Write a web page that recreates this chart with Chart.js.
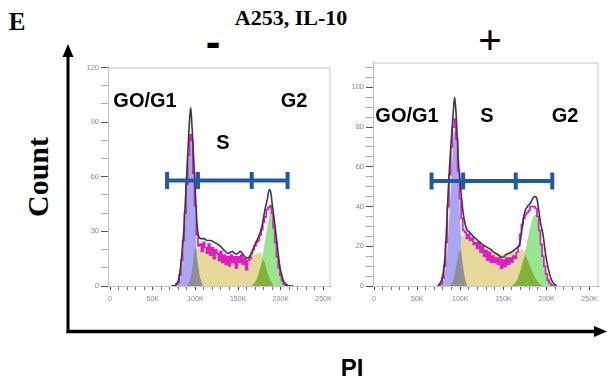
<!DOCTYPE html>
<html>
<head>
<meta charset="utf-8">
<script src="https://cdn.jsdelivr.net/npm/chart.js@4.4.0/dist/chart.umd.min.js"></script>
<style>
  html, body { margin: 0; padding: 0; background: #fff; }
  #wrap { position: relative; width: 607px; height: 379px; overflow: hidden; }
  canvas { position: absolute; }
  .t { position: absolute; white-space: nowrap; line-height: 1; color: #000; transform: translate(-50%, -50%); }
  .serif { font-family: "Liberation Serif", "Times New Roman", serif; font-weight: bold; }
  .sans { font-family: "Liberation Sans", Arial, sans-serif; font-weight: bold; }
  .phase { font-size: 20px; }
</style>
</head>
<body>
<div id="wrap">
  <svg width="607" height="379" style="position:absolute;left:0;top:0">
    <path d="M68 333 L68 54" stroke="#000" stroke-width="3" fill="none"/>
    <polygon points="68,44 62.5,57 73.5,57" fill="#000"/>
    <path d="M66.5 331.5 L596 331.5" stroke="#000" stroke-width="3.5" fill="none"/>
    <polygon points="607,331.5 594,326 594,337" fill="#000"/>
  </svg>

  <div class="t serif" style="left:17px;top:21px;font-size:25px;">E</div>
  <div class="t serif" style="left:291px;top:18px;font-size:22px;">A253, IL-10</div>
  <div class="t sans" style="left:213px;top:42px;font-size:44px;">-</div>
  <div class="t serif" style="left:490px;top:40px;font-size:42px;">+</div>
  <div class="t serif" style="left:38px;top:177px;font-size:30px;transform:translate(-50%,-50%) rotate(-90deg);">Count</div>
  <div class="t sans" style="left:352px;top:368px;font-size:24px;">PI</div>

  <canvas id="leftChart" width="267" height="255" style="left:76px;top:55px"></canvas>
  <canvas id="rightChart" width="270" height="260" style="left:341px;top:50px"></canvas>

  <div class="t sans phase" style="left:145px;top:100px;">GO/G1</div>
  <div class="t sans phase" style="left:223px;top:142px;">S</div>
  <div class="t sans phase" style="left:294px;top:100px;">G2</div>
  <div class="t sans phase" style="left:407px;top:115px;">GO/G1</div>
  <div class="t sans phase" style="left:487px;top:115px;">S</div>
  <div class="t sans phase" style="left:565px;top:115px;">G2</div>
</div>

<script>
// PI channel bins (in K) shared by both stepped histograms
const BINS = [74, 76, 78, 80, 82, 84, 86, 88, 90, 92,
  94, 96, 98, 100, 102, 104, 106, 108, 110, 112,
  114, 116, 118, 120, 122, 124, 126, 128, 130, 132,
  134, 136, 138, 140, 142, 144, 146, 148, 150, 152,
  154, 156, 158, 160, 162, 164, 166, 168, 170, 172,
  174, 176, 178, 180, 182, 184, 186, 188, 190, 192,
  194, 196, 198, 200, 202, 204, 206, 208, 210, 212];

// axis ticks (x in K)
const X_TICKS = [0, 10, 20, 30, 40, 50, 60, 70, 80, 90, 100, 110, 120, 130, 140, 150, 160, 170, 180, 190, 200, 210, 220, 230, 240, 250];
const LEFT_Y_TICKS = [0, 10, 20, 30, 40, 50, 60, 70, 80, 90, 100, 110, 120];
const RIGHT_Y_TICKS = [0, 5, 10, 15, 20, 25, 30, 35, 40, 45, 50, 55, 60, 65, 70, 75, 80, 85, 90, 95, 100, 105, 110];

// ---- IL-10 "-" panel ----
const leftHist = [0, 0, 1, 2, 6, 14, 25, 40, 56, 72,
  83, 80, 62, 44, 28, 22, 23, 19, 24, 21,
  18, 23, 17, 21, 15, 20, 18, 14, 19, 13,
  17, 12, 16, 11, 17, 13, 16, 10, 16, 13,
  17, 12, 15, 9, 14, 15, 18, 20, 22, 24,
  25, 28, 31, 35, 38, 42, 43, 44, 40, 32,
  24, 16, 10, 6, 3, 1, 0.5, 0, 0, 0];

const leftTotalX = [72, 77, 80, 83, 86.5, 89, 91, 93, 94.5, 96,
  98, 100, 102, 104, 106, 110, 114, 118, 122, 126,
  130, 134, 138, 141, 143.5, 145.5, 148, 150, 152.5, 155,
  157, 160, 162, 164, 167, 170, 172, 174, 176, 178,
  180, 182, 184, 186.7, 188.5, 190, 192, 194, 196, 198,
  200, 203, 206, 210, 215];
const leftTotalY = [0, 0.5, 3, 12, 31, 54, 72, 90, 98, 88,
  70, 51, 33, 27, 26, 26, 25, 25, 24, 23,
  21.5, 19.5, 18, 18.5, 19, 18, 17.5, 18, 19, 18,
  16.5, 15.5, 15.5, 16.5, 19.5, 23, 25, 27, 29.5, 33,
  38, 43, 47, 53, 51, 45, 38, 30, 22, 14,
  8, 3, 1, 0, 0];

const leftG1X = [78, 82, 85, 88, 90, 92, 94, 95, 96, 98, 100, 102, 104, 106];
const leftG1Y = [0, 4, 14, 34, 52, 70, 81, 82, 78, 60, 36, 16, 5, 0];
const leftGrayX = [90, 94, 97, 99, 100, 101, 103, 106, 109];
const leftGrayY = [0, 4, 12, 19, 21, 20, 12, 4, 0];
const leftSX = [99, 101, 104, 110, 120, 130, 140, 150, 160, 170, 176, 180, 184, 188, 192];
const leftSY = [0, 19, 21, 20, 18.5, 17, 16, 15.5, 16, 17.5, 18.5, 14, 8, 3, 0];
const leftG2X = [166, 172, 176, 180, 184, 187, 189, 192, 195, 198, 202, 206, 210];
const leftG2Y = [0, 4, 10, 20, 32, 39, 40, 35, 24, 13, 5, 1, 0];
const leftOverlapX = [166, 172, 176, 178, 180, 184, 188, 192];
const leftOverlapY = [0, 4, 10, 13, 14, 8, 3, 0];
const leftGateX = [66.8, 103, 166, 208];
const leftGateY = 58;

// ---- IL-10 "+" panel ----
const rightHist = [0, 0, 1, 4, 10, 22, 40, 56, 70, 80,
  84, 74, 58, 44, 34, 28, 27, 24, 26, 23,
  24, 21, 22, 19, 22, 17, 20, 15, 18, 13,
  17, 12, 15, 12, 14, 11, 14, 9, 13, 10,
  14, 11, 14, 12, 15, 14, 17, 20, 26, 31,
  34, 36, 37, 38, 40, 40, 40, 39, 35, 28,
  21, 15, 10, 6, 3, 1.5, 0.5, 0, 0, 0];

const rightTotalX = [74, 78, 80, 82, 84, 86, 88, 90, 92, 93.5,
  95, 96.5, 98, 100, 102, 104, 107, 111, 115, 119,
  123, 127, 131, 135, 139, 143, 146, 150, 153.5, 157,
  161, 165, 169, 171, 173, 175, 178, 181, 184, 186,
  188.5, 190.5, 193, 196, 199, 202, 205, 208, 212];
const rightTotalY = [0, 2.5, 6, 13, 28, 47.5, 63, 76, 88, 95,
  88, 75, 62, 52, 42, 35, 29, 27, 25, 23.5,
  22, 20.5, 19.5, 18.5, 17, 16, 15, 14.5, 16, 16.5,
  17.5, 19, 21, 27, 33, 37.5, 40, 41.5, 44, 45,
  44.5, 40, 32, 26, 16, 9, 4, 1.5, 0];

const rightG1X = [78, 82, 85, 88, 90, 92, 93.5, 95, 97, 99, 101, 103, 105, 107];
const rightG1Y = [0, 6, 18, 40, 58, 72, 78, 76, 62, 42, 24, 10, 3, 0];
const rightGrayX = [88, 92, 95, 97.5, 99.5, 101, 103, 105, 108];
const rightGrayY = [0, 3, 9, 15, 18, 17, 11, 5, 0];
const rightSX = [99, 101.5, 104, 110, 118, 126, 134, 142, 150, 158, 166, 172, 176, 181, 186, 191, 196];
const rightSY = [0, 26, 25, 23, 20.5, 19, 17.5, 16.5, 16, 16.5, 17.5, 18.5, 16, 10, 5, 1.5, 0];
const rightG2X = [160, 166, 170, 174, 178, 182, 185, 187.5, 190, 193, 196, 200, 204, 208, 212];
const rightG2Y = [0, 3, 8, 15, 23, 31, 35, 36, 33, 25, 16, 7, 2.5, 0.5, 0];
const rightOverlapX = [160, 166, 170, 174, 176, 178, 181, 186, 191, 196];
const rightOverlapY = [0, 3, 8, 14, 15, 13, 10, 5, 1.5, 0];
const rightGateX = [66.7, 103.4, 164.4, 206.8];
const rightGateY = 52.8;

function pts(xs, ys) {
  return xs.map((x, i) => ({ x: x, y: ys[i] }));
}

function area(xs, ys, color) {
  return {
    data: pts(xs, ys),
    fill: 'origin',
    backgroundColor: color,
    borderColor: 'rgba(0,0,0,0)',
    borderWidth: 1,
    pointRadius: 0,
    cubicInterpolationMode: 'monotone'
  };
}

// light box round the plot area
const framePlugin = {
  id: 'frame',
  beforeDatasetsDraw(chart) {
    const { ctx, chartArea: a } = chart;
    ctx.save();
    ctx.strokeStyle = '#c6c6c6';
    ctx.lineWidth = 1;
    ctx.strokeRect(a.left + 0.5, a.top + 0.5, a.right - a.left - 1, a.bottom - a.top);
    ctx.restore();
  }
};

function makePanel(id, p) {
  const ctx = document.getElementById(id);
  const gateColor = '#1f5aa6';
  return new Chart(ctx, {
    type: 'line',
    data: {
      datasets: [
        {
          data: p.gateX.map(x => ({ x: x, y: p.gateY })),
          borderColor: gateColor,
          borderWidth: 4,
          pointStyle: 'line',
          pointRadius: 8.5,
          pointRotation: 90,
          pointBorderWidth: 4,
          pointBorderColor: gateColor,
          fill: false
        },
        {
          data: pts(p.totalX, p.totalY),
          borderColor: '#3b3b3b',
          borderWidth: 1.6,
          pointRadius: 0,
          cubicInterpolationMode: 'monotone',
          fill: false
        },
        {
          data: pts(BINS, p.hist),
          borderColor: '#e01cc2',
          borderWidth: 1.7,
          pointRadius: 0,
          stepped: 'middle',
          fill: false
        },
        area(p.grayX, p.grayY, 'rgba(140,140,140,0.9)'),
        area(p.overlapX, p.overlapY, 'rgba(128,172,48,0.85)'),
        area(p.g2X, p.g2Y, 'rgba(128,222,116,0.8)'),
        area(p.sX, p.sY, 'rgba(228,213,145,0.9)'),
        area(p.g1X, p.g1Y, 'rgba(152,152,240,0.85)')
      ]
    },
    options: {
      responsive: false,
      animation: false,
      events: [],
      layout: { padding: { top: p.padTop, right: p.padRight, left: 0, bottom: 0 } },
      plugins: { legend: { display: false }, tooltip: { enabled: false } },
      scales: {
        x: {
          type: 'linear',
          min: p.xMin,
          max: p.xMax,
          afterFit: s => { s.height = 24; },
          afterBuildTicks: s => { s.ticks = X_TICKS.map(v => ({ value: v })); },
          ticks: {
            autoSkip: false,
            maxRotation: 0,
            padding: 5,
            color: '#8a8a8a',
            font: { size: 7, family: 'Liberation Sans' },
            callback: v => (v % 50 === 0 ? (v === 0 ? '0' : v + 'K') : '')
          },
          grid: {
            drawOnChartArea: false,
            tickLength: 4,
            tickColor: c => (c.tick && c.tick.value % 50 === 0 ? '#444' : '#777')
          },
          border: { color: '#555', width: 1 }
        },
        y: {
          min: 0,
          max: p.yMax,
          afterFit: s => { s.width = 32; },
          afterBuildTicks: s => { s.ticks = p.yTicks.map(v => ({ value: v })); },
          ticks: {
            autoSkip: false,
            padding: 2,
            color: '#8a8a8a',
            font: { size: 7.5, family: 'Liberation Sans' },
            callback: v => (v % p.yMajor === 0 ? String(v) : '')
          },
          grid: {
            drawOnChartArea: false,
            tickLength: 7,
            tickColor: c => (c.tick && c.tick.value % p.yMajor === 0 ? '#555' : '#aaa')
          },
          border: { color: '#9a9a9a', width: 1 }
        }
      }
    },
    plugins: [framePlugin]
  });
}

makePanel('leftChart', {
  hist: leftHist,
  totalX: leftTotalX, totalY: leftTotalY,
  g1X: leftG1X, g1Y: leftG1Y,
  grayX: leftGrayX, grayY: leftGrayY,
  sX: leftSX, sY: leftSY,
  g2X: leftG2X, g2Y: leftG2Y,
  overlapX: leftOverlapX, overlapY: leftOverlapY,
  gateX: leftGateX, gateY: leftGateY,
  xMin: -2.4, xMax: 258.3,
  yMax: 120, yTicks: LEFT_Y_TICKS, yMajor: 30,
  padTop: 10, padRight: 5
});

makePanel('rightChart', {
  hist: rightHist,
  totalX: rightTotalX, totalY: rightTotalY,
  g1X: rightG1X, g1Y: rightG1Y,
  grayX: rightGrayX, grayY: rightGrayY,
  sX: rightSX, sY: rightSY,
  g2X: rightG2X, g2Y: rightG2Y,
  overlapX: rightOverlapX, overlapY: rightOverlapY,
  gateX: rightGateX, gateY: rightGateY,
  xMin: -1.2, xMax: 260.4,
  yMax: 112.5, yTicks: RIGHT_Y_TICKS, yMajor: 20,
  padTop: 10, padRight: 6
});
</script>
</body>
</html>
